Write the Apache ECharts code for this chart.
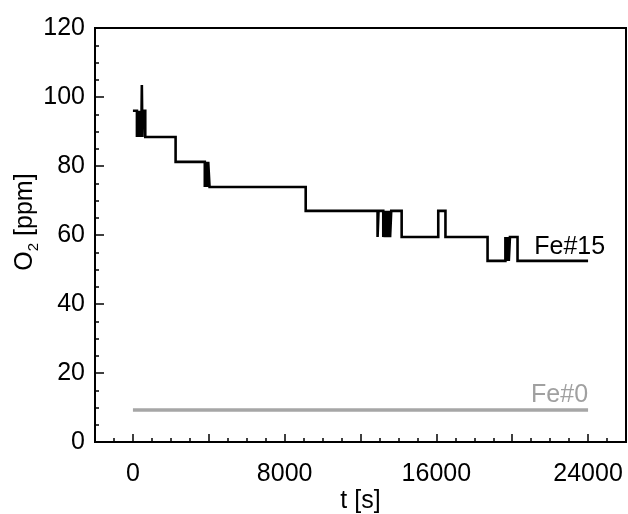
<!DOCTYPE html>
<html>
<head>
<meta charset="utf-8">
<script src="https://cdn.jsdelivr.net/npm/echarts@6/dist/echarts.min.js"></script>
<style>
html,body{margin:0;padding:0;background:#fff;}
#main{width:628px;height:514px;}
</style>
</head>
<body>
<div id="main"></div>
<script>
// ---- data ----
const xTickLabels = [0, 8000, 16000, 24000];
const xMajorTicks = [0, 4000, 8000, 12000, 16000, 20000, 24000];
const xMinorTicks = [-1000, 1000, 2000, 3000, 5000, 6000, 7000, 9000, 10000, 11000, 13000, 14000, 15000, 17000, 18000, 19000, 21000, 22000, 23000, 25000];
const yTickLabels = [0, 20, 40, 60, 80, 100, 120];
const yMinorTicks = [5, 10, 15, 25, 30, 35, 45, 50, 55, 65, 70, 75, 85, 90, 95, 105, 110, 115];

// Fe#15: time at which the level changes, and the new level (step line)
const fe15Time = [0, 211, 260, 310, 360, 410, 455, 470, 485, 500, 540, 650,
  2250, 3790, 3850, 3910, 3970, 4040, 9110,
  12900, 12950, 13200, 13260, 13320, 13380, 13440, 13500, 13560, 13620, 13680, 14170,
  16100, 16480, 18700, 19640, 19700, 19760, 19820, 19880, 20280, 24000];
const fe15O2 = [96, 88.4, 96, 88.4, 96, 88.4, 96, 103.5, 96, 88.4, 96, 88.4,
  81.2, 73.9, 81.2, 73.9, 81.2, 73.9, 67,
  59.4, 67, 59.4, 67, 59.4, 67, 59.4, 67, 59.4, 67, 67, 59.4,
  67, 59.4, 52.5, 59.4, 52.5, 59.4, 52.5, 59.4, 52.5, 52.5];

// Fe#0: flat trace
const fe0Time = [0, 6000, 12000, 18000, 24000];
const fe0O2 = [9.3, 9.3, 9.3, 9.3, 9.3];

const seriesNames = ['Fe#15', 'Fe#0'];

const zip = (a, b) => a.map((v, i) => [v, b[i]]);
const FONT = "'Liberation Sans', Arial, Helvetica, sans-serif";
const plain = v => String(v);

const chart = echarts.init(document.getElementById('main'), null, {renderer: 'canvas'});
const option = {
  animation: false,
  backgroundColor: '#fff',
  grid: {left: 95, top: 28, right: 2, bottom: 72, show: true, borderColor: '#000', borderWidth: 2,
    backgroundColor: 'transparent', containLabel: false, outerBoundsMode: 'none'},
  xAxis: [{
    type: 'value', min: -2000, max: 26000,
    name: 't [s]', nameLocation: 'middle', nameGap: 47, nameMoveOverlap: false,
    nameTextStyle: {fontFamily: FONT, fontSize: 25, color: '#000'},
    axisLine: {show: true, onZero: false, lineStyle: {color: '#000', width: 2}},
    axisTick: {show: true, inside: true, length: 8, customValues: xMajorTicks, lineStyle: {color: '#000', width: 1.5}},
    axisLabel: {customValues: xTickLabels, formatter: plain, margin: 20, fontFamily: FONT, fontSize: 25, color: '#000'},
    splitLine: {show: false}
  }, {
    type: 'value', min: -2000, max: 26000, position: 'bottom',
    axisLine: {show: false, onZero: false},
    axisTick: {show: true, inside: true, length: 4, customValues: xMinorTicks, lineStyle: {color: '#000', width: 1.5}},
    axisLabel: {show: false},
    splitLine: {show: false}
  }],
  yAxis: [{
    type: 'value', min: 0, max: 120, interval: 20,
    name: 'O{sub|2} [ppm]', nameLocation: 'middle', nameGap: 54, nameRotate: 90, nameMoveOverlap: false,
    nameTextStyle: {fontFamily: FONT, fontSize: 25, color: '#000', padding: [0, 0, 0, 26],
      rich: {sub: {fontFamily: FONT, fontSize: 15, color: '#000', verticalAlign: 'bottom', padding: [16, 0, 0, 0]}}},
    axisLine: {show: true, onZero: false, lineStyle: {color: '#000', width: 2}},
    axisTick: {show: true, inside: true, length: 9, lineStyle: {color: '#000', width: 1.5}},
    axisLabel: {margin: 10, formatter: plain, fontFamily: FONT, fontSize: 25, color: '#000',
      customValues: yTickLabels},
    splitLine: {show: false}
  }, {
    type: 'value', min: 0, max: 120, position: 'left',
    axisLine: {show: false, onZero: false},
    axisTick: {show: true, inside: true, length: 4, customValues: yMinorTicks, lineStyle: {color: '#000', width: 1.5}},
    axisLabel: {show: false},
    splitLine: {show: false}
  }],
  series: [{
    name: seriesNames[1], type: 'line', data: zip(fe0Time, fe0O2),
    showSymbol: false, symbol: 'none',
    lineStyle: {color: '#a6a6a6', width: 3.5}, z: 2
  }, {
    name: seriesNames[0], type: 'line', step: 'end', data: zip(fe15Time, fe15O2),
    showSymbol: false, symbol: 'none',
    lineStyle: {color: '#000', width: 2.6, join: 'miter'}, z: 3
  }]
};
chart.setOption(option);

// series labels placed at data positions
const p15 = chart.convertToPixel({gridIndex: 0}, [24900, 56.5]);
const p0 = chart.convertToPixel({gridIndex: 0}, [24000, 13.6]);
chart.setOption({
  graphic: [
    {type: 'text', x: p15[0], y: p15[1], style: {text: seriesNames[0], font: '25px ' + FONT, fill: '#000', align: 'right', verticalAlign: 'middle'}},
    {type: 'text', x: p0[0], y: p0[1], style: {text: seriesNames[1], font: '25px ' + FONT, fill: '#a0a0a0', align: 'right', verticalAlign: 'middle'}}
  ]
});
</script>
</body>
</html>
